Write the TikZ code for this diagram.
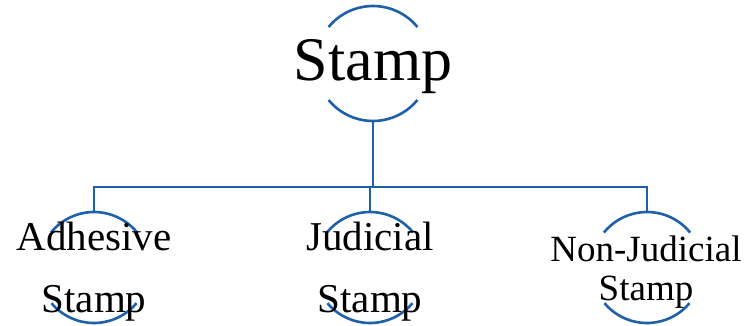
\documentclass[tikz,border=0pt]{standalone}
\usepackage{fontspec}
\setmainfont{Liberation Serif}
\definecolor{linkblue}{RGB}{30,96,170}
\begin{document}
\begin{tikzpicture}[x=1pt,y=1pt,
  hub/.style={circle,minimum size=#1,inner sep=0pt,outer sep=0pt},
  ring/.style={draw=linkblue,line width=2.6pt},
  link/.style={draw=linkblue,line width=2.6pt},
  lbl/.style={anchor=base,inner sep=0pt,font=\fontsize{#1}{#1}\selectfont}]
\useasboundingbox (0,0) rectangle (745,325);
\fill[white] (0,0) rectangle (745,325);

% invisible circles that carry the arcs
\node[hub=115] (top) at (373,261.5) {};
\node[hub=111] (adh) at (94,57.5) {};
\node[hub=111] (jud) at (370,57.5) {};
\node[hub=111] (non) at (647,57.5) {};

% broken circle outlines
\draw[ring] ([shift={(39.4:57.5)}]top.center) arc[start angle=39.4,end angle=140.6,radius=57.5];
\draw[ring] ([shift={(219.4:57.5)}]top.center) arc[start angle=219.4,end angle=320.6,radius=57.5];
\foreach \n in {adh,jud,non}{
  \draw[ring] ([shift={(39:55.5)}]\n.center) arc[start angle=39,end angle=141,radius=55.5];
  \draw[ring] ([shift={(220:55.5)}]\n.center) arc[start angle=220,end angle=320,radius=55.5];
}

% connectors
\coordinate (bar) at (373,138);
\draw[link] (top.south) -- (top.south |- bar);
\draw[link] (adh.north) -- (adh.north |- bar) -- (non.north |- bar) -- (non.north);
\draw[link] (jud.north) -- (jud.north |- bar);

% labels
\node[lbl=62] (ttop) at (373,245) {Stamp};
\node[lbl=41] (tadh1) at (94,75) {Adhesive};
\node[lbl=41] (tadh2) at (94,13) {Stamp};
\node[lbl=41] (tjud1) at (370,75) {Judicial};
\node[lbl=41] (tjud2) at (370,13) {Stamp};
\node[lbl=37] (tnon1) at (646,64) {Non-Judicial};
\node[lbl=37] (tnon2) at (646,25) {Stamp};
\end{tikzpicture}
\end{document}
